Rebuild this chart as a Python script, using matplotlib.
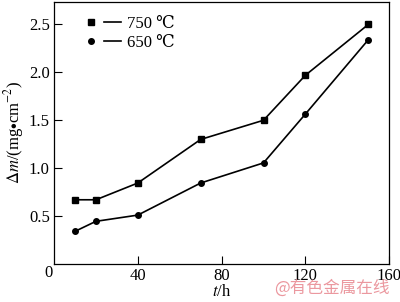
import matplotlib
matplotlib.use("Agg")
import matplotlib.pyplot as plt
from matplotlib.lines import Line2D
from matplotlib.legend_handler import HandlerTuple

plt.rcParams["font.family"] = ["Liberation Serif", "DejaVu Serif"]
plt.rcParams["mathtext.fontset"] = "stix"

# ── Datos ─────────────────────────────────────────────────────────────────────
t_h      = [10, 20, 40, 70, 100, 120, 150]
dm_750   = [0.67, 0.67, 0.845, 1.30, 1.50, 1.97, 2.50]
dm_650   = [0.34, 0.445, 0.51, 0.845, 1.055, 1.565, 2.34]
x_ticks  = [40, 80, 120, 160]
y_ticks  = [0.5, 1.0, 1.5, 2.0, 2.5]

FS = 12

fig = plt.figure(figsize=(4.0, 3.02), dpi=100)
ax = fig.add_axes([0.135, 0.126, 0.838, 0.869])

ax.plot(t_h, dm_750, color="black", lw=1.2, marker="s", ms=4)
ax.plot(t_h, dm_650, color="black", lw=1.2, marker="o", ms=4)

ax.set_xlim(0, 160)
ax.set_ylim(0, 2.74)
ax.set_xticks(x_ticks)
ax.set_yticks(y_ticks)
ax.set_yticklabels([f"{v:.1f}" for v in y_ticks])
ax.tick_params(direction="in", length=6, width=0.8, labelsize=FS, pad=3)
ax.text(-0.015, -0.034, "0", transform=ax.transAxes, fontsize=FS,
        ha="center", va="center")
for s in ax.spines.values():
    s.set_linewidth(0.9)

ax.set_xlabel(r"$t$/h", fontsize=FS, labelpad=0)
ax.set_ylabel(r"$\Delta m$/(mg$\bullet$cm$^{-2}$)", fontsize=FS, labelpad=2)

# leyenda: marcador, luego segmento de línea
h750 = (Line2D([], [], color="black", marker="s", ls="none", ms=4),
        Line2D([], [], color="black", lw=1.2))
h650 = (Line2D([], [], color="black", marker="o", ls="none", ms=4),
        Line2D([], [], color="black", lw=1.2))
ax.legend([h750, h650], ["750 ℃", "650 ℃"],
          handler_map={tuple: HandlerTuple(ndivide=None, pad=0.25)},
          loc="upper left", bbox_to_anchor=(0.065, 0.97), frameon=False,
          fontsize=FS, handlelength=2.3, handletextpad=0.35,
          labelspacing=0.15, borderaxespad=0)

fig.text(0.975, 0.045, "@有色金属在线", color="#e8868e", alpha=0.85,
         fontsize=12, ha="right", va="center",
         family=["Noto Sans CJK SC", "DejaVu Sans"])

fig.savefig("out.png", dpi=100)
